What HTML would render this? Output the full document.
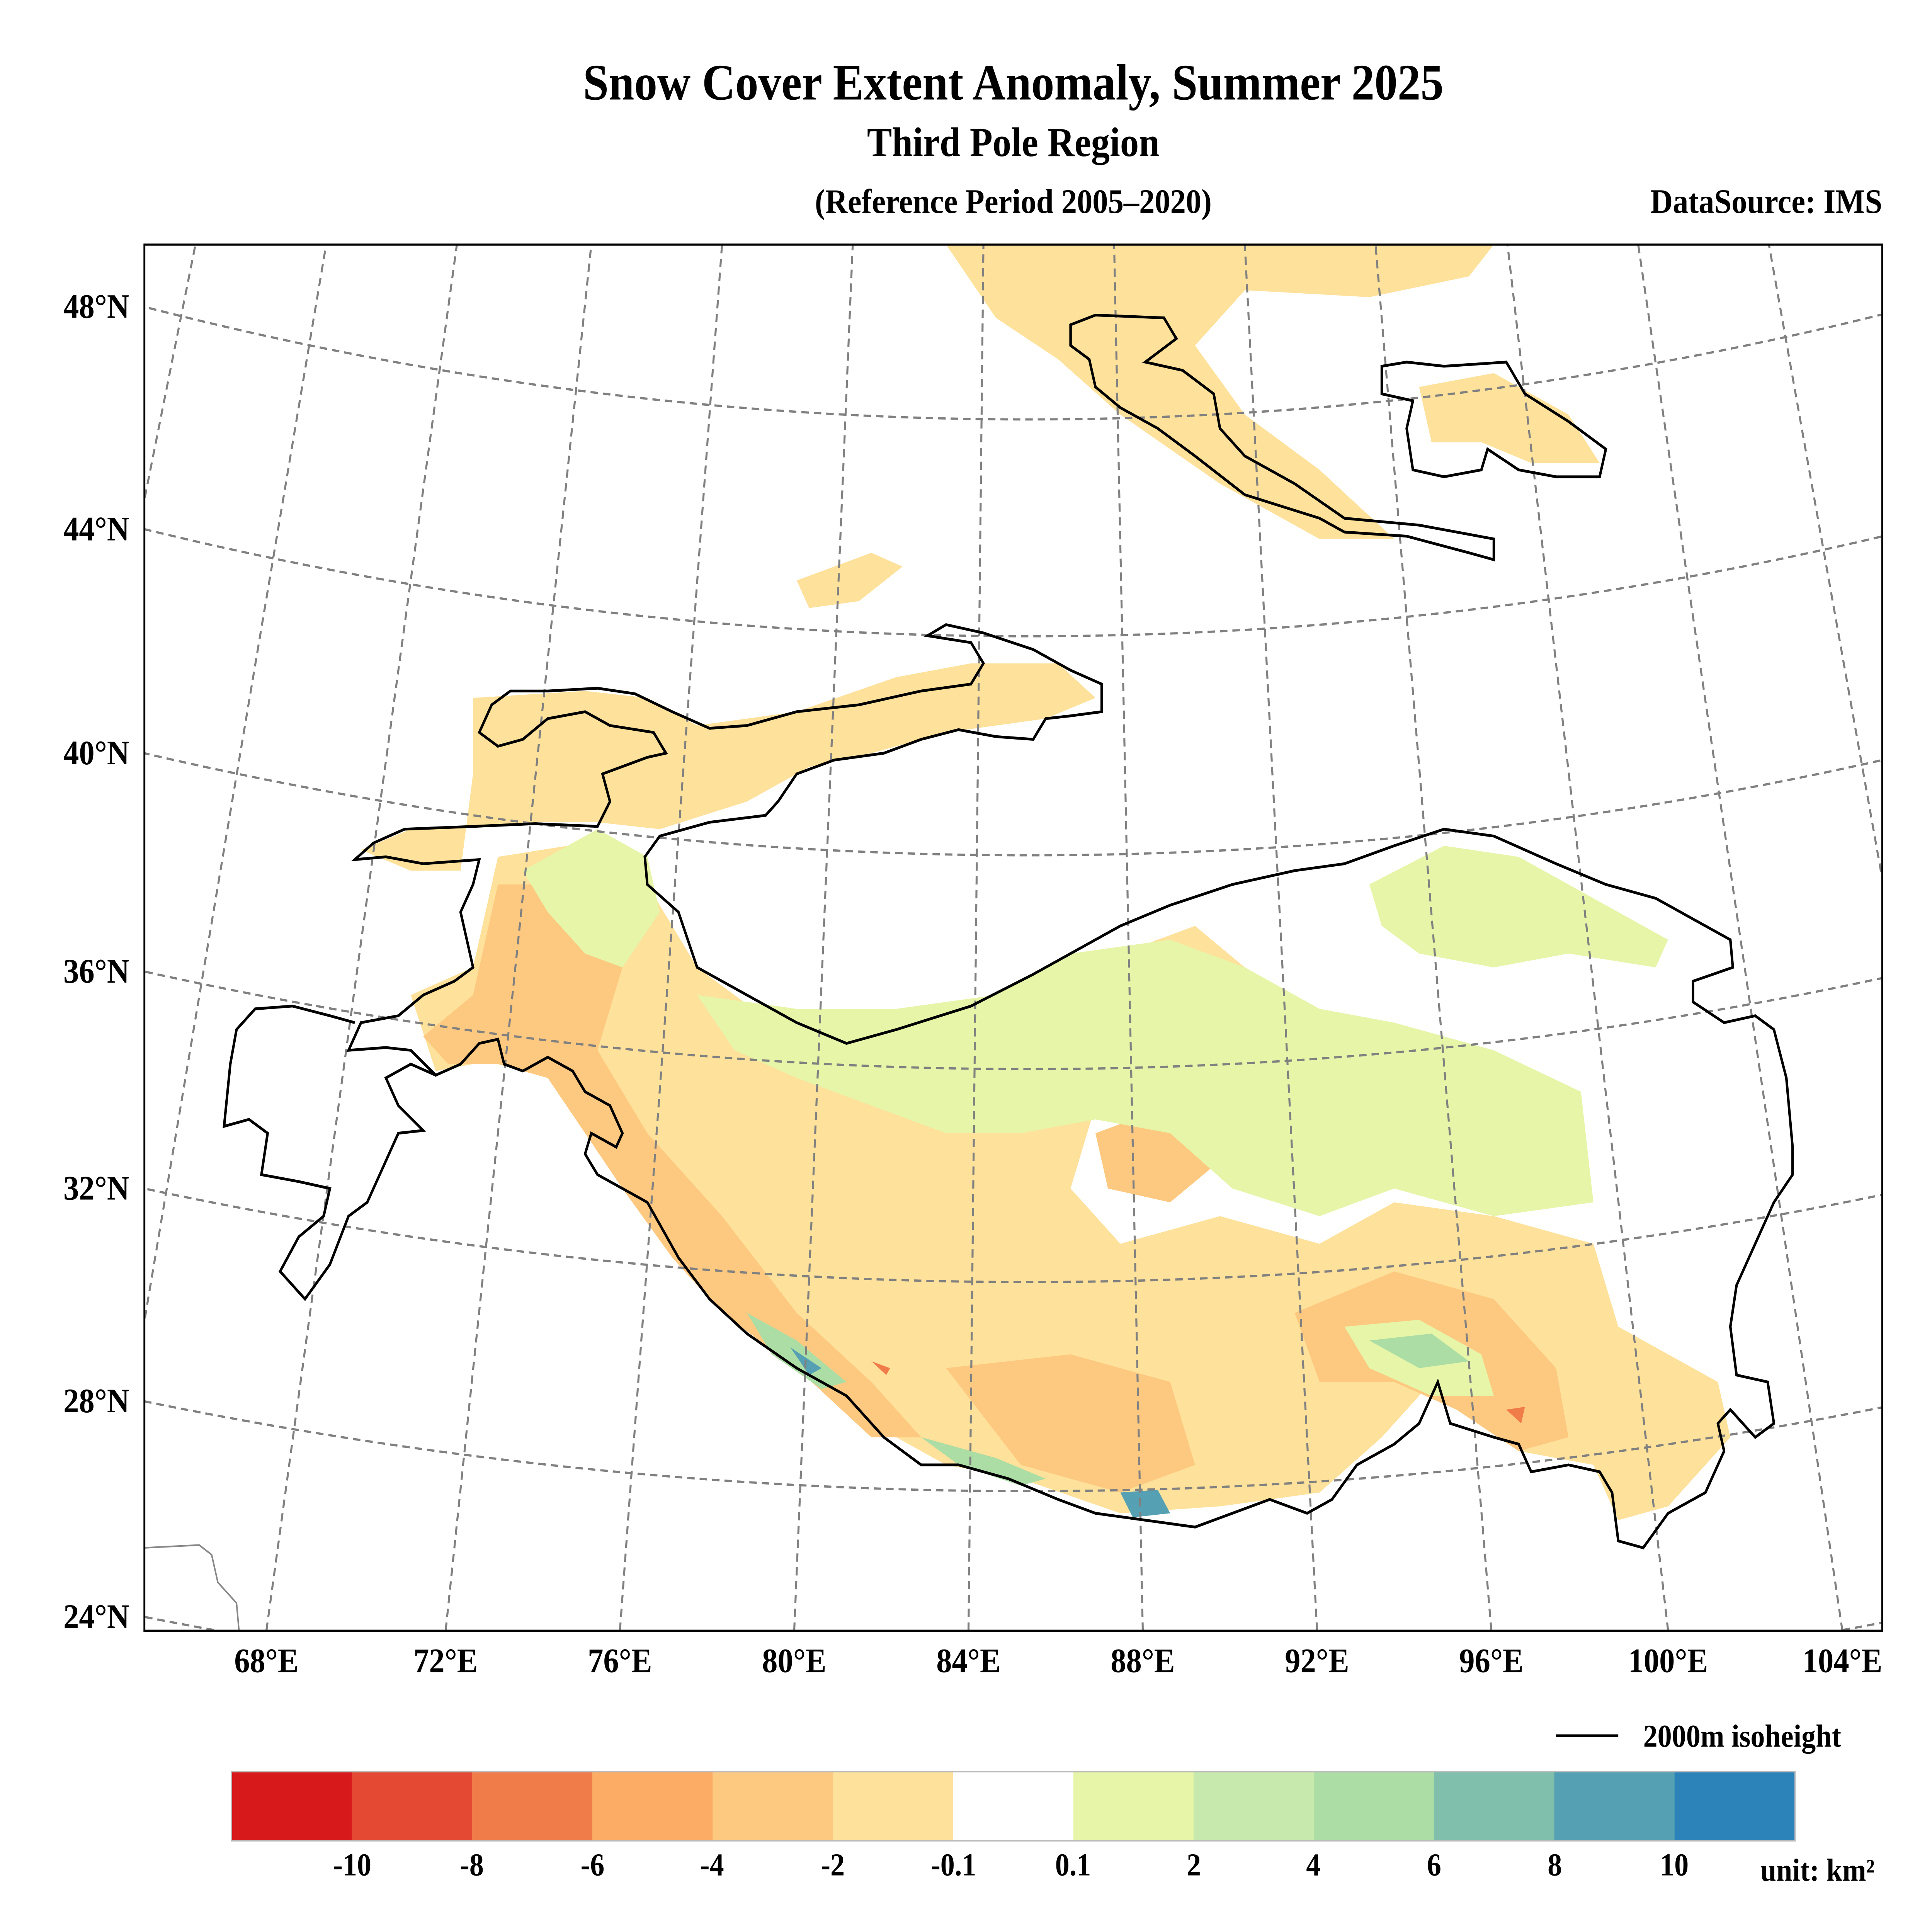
<!DOCTYPE html>
<html><head><meta charset="utf-8">
<style>
html,body{margin:0;padding:0;background:#fff;width:100vw;height:100vh;overflow:hidden;}
svg{display:block;position:absolute;left:0;top:0;width:100vw;height:100vh;}
text{font-family:"Liberation Serif",serif;font-weight:bold;fill:#000;}
</style></head>
<body>
<svg viewBox="0 0 1552 1398" preserveAspectRatio="none" xmlns="http://www.w3.org/2000/svg">
<rect width="1552" height="1398" fill="#fff"/>
<text x="814" y="72" font-size="37" text-anchor="middle">Snow Cover Extent Anomaly, Summer 2025</text>
<text x="814" y="113" font-size="30" text-anchor="middle">Third Pole Region</text>
<text x="814" y="154" font-size="25" text-anchor="middle">(Reference Period 2005–2020)</text>
<text x="1512" y="154" font-size="25" text-anchor="end">DataSource: IMS</text>
<defs><clipPath id="c"><rect x="116" y="177" width="1396" height="1003"/></clipPath></defs>
<g clip-path="url(#c)">
 <g fill="#fee19a">
  <path d="M760,177 L1200,177 L1180,200 L1100,215 L1000,210 L960,250 L1000,300 L1060,340 L1120,390 L1060,390 L980,350 L900,300 L850,260 L800,230 Z"/>
  <path d="M1140,280 L1200,270 L1260,300 L1285,335 L1230,335 L1190,320 L1150,320 Z"/>
  <path d="M640,420 L700,400 L725,410 L690,435 L650,440 Z"/>
  <path d="M380,505 L470,500 L520,505 L560,525 L640,515 L720,490 L780,480 L850,480 L880,505 L840,520 L760,530 L700,545 L650,555 L600,580 L530,600 L480,595 L430,595 L330,600 L290,615 L330,630 L370,630 L380,560 Z"/>
  <path d="M330,720 L380,700 L400,620 L470,610 L520,640 L560,700 L620,740 L680,760 L760,745 L840,710 L900,690 L960,670 L1000,700 L950,760 L880,800 L860,860 L900,900 L980,880 L1060,900 L1120,870 L1200,880 L1280,900 L1300,960 L1380,1000 L1390,1040 L1340,1090 L1300,1100 L1280,1060 L1220,1050 L1170,1020 L1150,1000 L1110,1040 L1060,1080 L980,1090 L900,1095 L820,1070 L760,1060 L700,1030 L640,980 L580,940 L540,900 L500,855 L470,820 L460,780 L420,770 L380,770 L350,775 Z"/>
  <path d="M420,740 L470,745 L500,770 L450,790 Z"/>
 </g>
 <g fill="#fdc980">
  <path d="M400,640 L470,640 L500,700 L480,760 L520,820 L580,880 L640,950 L700,1000 L740,1040 L700,1040 L640,990 L580,950 L540,910 L500,860 L470,820 L440,780 L400,770 L360,770 L340,750 L380,720 L390,680 Z"/>
  <path d="M1040,950 L1120,920 L1200,940 L1250,990 L1260,1040 L1220,1050 L1170,1020 L1120,1000 L1060,1000 Z"/>
  <path d="M880,820 L940,800 L980,840 L940,870 L890,860 Z"/>
  <path d="M760,990 L860,980 L940,1000 L960,1060 L900,1080 L820,1060 Z"/>
  <path d="M1180,800 L1230,780 L1260,830 L1220,860 L1190,840 Z"/>
 </g>
 <g fill="#e6f5a8">
  <path d="M560,720 L640,730 L720,730 L800,720 L860,690 L940,680 L1000,700 L1060,730 L1120,740 L1200,760 L1270,790 L1280,870 L1200,880 L1120,860 L1060,880 L990,860 L940,820 L880,810 L820,820 L760,820 L700,800 L640,780 L590,760 Z"/>
  <path d="M1100,640 L1160,612 L1220,620 L1280,650 L1340,680 L1330,700 L1260,690 L1200,700 L1140,690 L1110,670 Z"/>
  <path d="M420,630 L480,600 L520,620 L530,660 L500,700 L470,690 L440,660 Z"/>
  <path d="M1080,960 L1140,955 L1190,980 L1200,1010 L1150,1010 L1100,990 Z"/>
 </g>
 <g fill="#abdda4">
  <path d="M600,950 L640,970 L680,1000 L660,1005 L620,980 Z"/>
  <path d="M740,1040 L800,1055 L840,1070 L820,1075 L770,1060 Z"/>
  <path d="M1100,970 L1150,965 L1180,985 L1140,990 Z"/>
 </g>
 <g fill="#55a0b3"><path d="M900,1080 L930,1078 L940,1095 L910,1098 Z"/><path d="M635,975 L660,990 L650,995 Z"/></g>
 <g fill="#f07c4a"><path d="M700,985 L715,990 L712,995 Z"/><path d="M1210,1020 L1225,1018 L1222,1030 Z"/></g>

 <g fill="none" stroke="#808080" stroke-width="1.6" stroke-dasharray="6,4">
  <circle cx="826" cy="-2831" r="3134.5"/>
  <circle cx="826" cy="-2831" r="3291.4"/>
  <circle cx="826" cy="-2831" r="3449.9"/>
  <circle cx="826" cy="-2831" r="3604.6"/>
  <circle cx="826" cy="-2831" r="3758.7"/>
  <circle cx="826" cy="-2831" r="3910"/>
  <circle cx="826" cy="-2831" r="4063.5"/>
  <line x1="-66" y1="1180" x2="157" y2="177"/>
  <line x1="74" y1="1180" x2="262" y2="177"/>
  <line x1="214" y1="1180" x2="367" y2="177"/>
  <line x1="358" y1="1180" x2="475" y2="177"/>
  <line x1="498" y1="1180" x2="580" y2="177"/>
  <line x1="638" y1="1180" x2="685" y2="177"/>
  <line x1="778" y1="1180" x2="790" y2="177"/>
  <line x1="918" y1="1180" x2="895" y2="177"/>
  <line x1="1058" y1="1180" x2="1000" y2="177"/>
  <line x1="1198" y1="1180" x2="1105" y2="177"/>
  <line x1="1340" y1="1180" x2="1211" y2="177"/>
  <line x1="1480" y1="1180" x2="1316" y2="177"/>
  <line x1="1620" y1="1180" x2="1421" y2="177"/>
 </g>
 <path d="M116,1120 L160,1118 L170,1125 L175,1145 L190,1160 L192,1180" fill="none" stroke="#888" stroke-width="1.2"/>

 <g fill="none" stroke="#000" stroke-width="2">
  <path d="M285,622 L300,610 L325,600 L380,598 L430,596 L480,598 L490,580 L484,560 L520,548 L535,545 L525,530 L490,525 L470,515 L440,520 L420,535 L400,540 L385,530 L395,510 L410,500 L440,500 L480,498 L510,502 L540,515 L570,527 L600,525 L640,515 L690,510 L740,500 L780,495 L790,480 L780,465 L745,460 L760,452 L790,458 L830,470 L860,485 L885,495 L885,515 L860,518 L840,520 L830,535 L800,533 L770,528 L740,535 L710,545 L670,550 L640,560 L625,580 L615,590 L570,595 L530,605 L518,620 L520,640 L545,660 L560,700 L600,720 L640,740 L680,755 L720,745 L780,728 L830,705 L870,685 L900,670 L940,655 L990,640 L1040,630 L1080,625 L1120,612 L1160,600 L1200,605 L1250,625 L1290,640 L1330,650 L1360,665 L1390,680 L1392,700 L1360,710 L1360,725 L1385,740 L1410,735 L1425,745 L1435,780 L1440,830 L1440,850 L1425,870 L1410,900 L1395,930 L1390,960 L1395,995 L1420,1000 L1425,1030 L1410,1040 L1390,1020 L1380,1030 L1385,1050 L1370,1080 L1340,1095 L1320,1120 L1300,1115 L1295,1080 L1285,1065 L1260,1060 L1230,1065 L1220,1045 L1200,1040 L1165,1030 L1155,1000 L1140,1030 L1120,1045 L1090,1060 L1070,1085 L1050,1095 L1020,1085 L990,1095 L960,1105 L920,1100 L880,1095 L850,1085 L810,1070 L770,1060 L740,1060 L710,1040 L680,1010 L640,990 L600,965 L570,940 L545,910 L520,870 L500,860 L480,850 L470,835 L475,820 L495,830 L500,820 L490,800 L470,790 L460,775 L440,765 L420,775 L405,770 L400,752 L385,755 L370,770 L350,778 L330,760 L310,758 L280,760 L290,740 L320,735 L340,720 L365,710 L380,700 L375,680 L370,660 L380,640 L385,622 L340,625 L310,620 Z"/>
  <path d="M285,740 L265,735 L235,728 L205,730 L190,745 L185,770 L180,815 L200,810 L215,820 L210,850 L240,855 L265,860 L260,880 L240,895 L225,920 L245,940 L265,915 L280,880 L295,870 L305,850 L320,820 L340,818 L320,800 L310,780 L330,770 L350,778"/>
  <path d="M860,235 L880,228 L935,230 L945,245 L920,262 L950,268 L975,285 L980,310 L1000,330 L1040,350 L1080,375 L1140,380 L1200,390 L1200,405 L1180,400 L1130,388 L1080,385 L1060,375 L1000,358 L960,330 L930,310 L900,295 L880,280 L875,260 L860,250 Z"/>
  <path d="M1110,265 L1130,262 L1160,265 L1210,262 L1225,285 L1260,305 L1290,325 L1285,345 L1250,345 L1220,340 L1195,325 L1190,340 L1160,345 L1135,340 L1130,310 L1135,290 L1110,285 Z"/>
 </g>
</g>
<rect x="116" y="177" width="1396" height="1003" fill="none" stroke="#000" stroke-width="1.5"/>

<g font-size="25" text-anchor="end">
 <text x="104" y="230">48°N</text>
 <text x="104" y="391">44°N</text>
 <text x="104" y="553">40°N</text>
 <text x="104" y="711">36°N</text>
 <text x="104" y="868">32°N</text>
 <text x="104" y="1022">28°N</text>
 <text x="104" y="1178">24°N</text>
</g>
<g font-size="25" text-anchor="middle">
 <text x="214" y="1210">68°E</text><text x="358" y="1210">72°E</text><text x="498" y="1210">76°E</text>
 <text x="638" y="1210">80°E</text><text x="778" y="1210">84°E</text><text x="918" y="1210">88°E</text>
 <text x="1058" y="1210">92°E</text><text x="1198" y="1210">96°E</text><text x="1340" y="1210">100°E</text>
 <text x="1480" y="1210">104°E</text>
</g>

<line x1="1250" y1="1256" x2="1300" y2="1256" stroke="#000" stroke-width="2"/>
<text x="1320" y="1264" font-size="23">2000m isoheight</text>

<g stroke="none">
 <rect x="186" y="1282" width="97" height="50" fill="#d7191c"/>
 <rect x="282.6" y="1282" width="97" height="50" fill="#e34933"/>
 <rect x="379.2" y="1282" width="97" height="50" fill="#f07c4a"/>
 <rect x="475.8" y="1282" width="97" height="50" fill="#fcac64"/>
 <rect x="572.4" y="1282" width="97" height="50" fill="#fdc980"/>
 <rect x="669" y="1282" width="97" height="50" fill="#fee19a"/>
 <rect x="765.6" y="1282" width="97" height="50" fill="#ffffff"/>
 <rect x="862.2" y="1282" width="97" height="50" fill="#e6f5a8"/>
 <rect x="958.8" y="1282" width="97" height="50" fill="#c7e9ad"/>
 <rect x="1055.4" y="1282" width="97" height="50" fill="#abdda4"/>
 <rect x="1152" y="1282" width="97" height="50" fill="#80bfab"/>
 <rect x="1248.6" y="1282" width="97" height="50" fill="#55a0b3"/>
 <rect x="1345.2" y="1282" width="96.8" height="50" fill="#2b83ba"/>
</g>
<rect x="186" y="1282" width="1256" height="50" fill="none" stroke="#bbb" stroke-width="1"/>
<g font-size="23" text-anchor="middle">
 <text x="283" y="1357">-10</text><text x="379" y="1357">-8</text><text x="476" y="1357">-6</text>
 <text x="572" y="1357">-4</text><text x="669" y="1357">-2</text><text x="766" y="1357">-0.1</text>
 <text x="862" y="1357">0.1</text><text x="959" y="1357">2</text><text x="1055" y="1357">4</text>
 <text x="1152" y="1357">6</text><text x="1249" y="1357">8</text><text x="1345" y="1357">10</text>
</g>
<text x="1506" y="1361" font-size="23" text-anchor="end">unit: km²</text>
</svg>
</body></html>
